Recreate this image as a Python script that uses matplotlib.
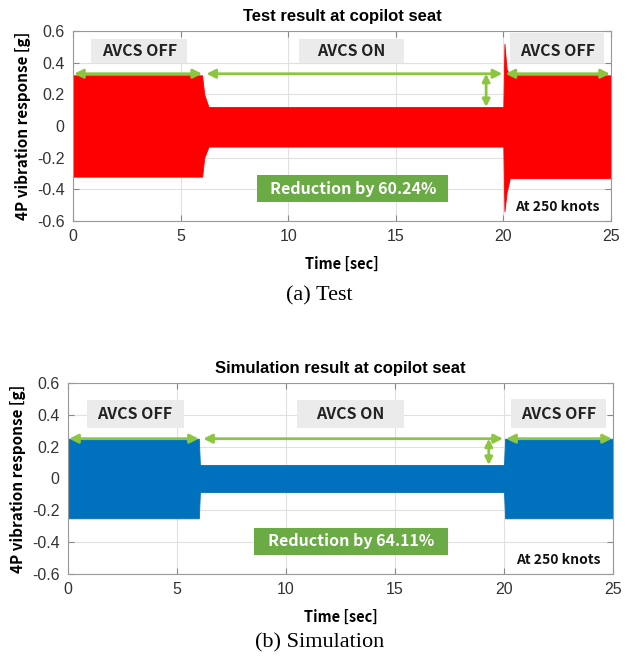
import matplotlib
matplotlib.use("Agg")
import matplotlib.pyplot as plt
from matplotlib.patches import Rectangle

# ---- data (envelopes) ----
test_t = [0.0, 6.0, 6.1, 6.3, 20.0, 20.05, 20.15, 20.3, 25.0]
test_upper = [0.32, 0.32, 0.20, 0.12, 0.12, 0.52, 0.36, 0.32, 0.32]
test_lower = [-0.32, -0.32, -0.20, -0.13, -0.13, -0.54, -0.42, -0.33, -0.33]

sim_t = [0.0, 6.0, 6.05, 20.0, 20.05, 25.0]
sim_upper = [0.25, 0.25, 0.085, 0.085, 0.25, 0.25]
sim_lower = [-0.25, -0.25, -0.085, -0.085, -0.25, -0.25]

titles = ["Test result at copilot seat", "Simulation result at copilot seat"]
captions = ["(a) Test", "(b) Simulation"]
reductions = ["Reduction by 60.24%", "Reduction by 64.11%"]
xticks = [0, 5, 10, 15, 20, 25]
yticks = [-0.6, -0.4, -0.2, 0, 0.2, 0.4, 0.6]
yticklabels = ["-0.6", "-0.4", "-0.2", "0", "0.2", "0.4", "0.6"]

GREEN = "#8CC63F"
GREEN_BOX = "#6AAB45"
GRAY_BOX = "#EBEBEB"

fig = plt.figure(figsize=(6.27, 6.61), dpi=100)
axes_pos = [[0.1164, 0.6657, 0.858, 0.2874], [0.1085, 0.1316, 0.8692, 0.2890]]
colors = ["#FF0000", "#0072BD"]
datasets = [(test_t, test_upper, test_lower), (sim_t, sim_upper, sim_lower)]
arrow_y = [0.33, 0.25]
on_level = [0.12, 0.085]
vert_x = [19.2, 19.3]
box_y = [(0.40, 0.55), (0.32, 0.49)]
box3_y = [(0.40, 0.59), (0.32, 0.50)]
cap_y = [296, 643]
bold_font = ["Noto Sans CJK KR", "DejaVu Sans"]
arial = ["Liberation Sans", "DejaVu Sans"]

for i, ax_p in enumerate(axes_pos):
    ax = fig.add_axes(ax_p)
    t, up, lo = datasets[i]
    ax.fill_between(t, lo, up, color=colors[i], lw=0.6, zorder=2)
    ax.set_xlim(0, 25)
    ax.set_ylim(-0.6, 0.6)
    ax.set_xticks(xticks)
    ax.set_yticks(yticks)
    ax.set_yticklabels(yticklabels)
    ax.grid(True, color="#E0E0E0", lw=0.8, zorder=0)
    ax.set_axisbelow(True)
    ax.tick_params(direction="in", top=True, right=True, length=4, color="#888888",
                   labelsize=11.5, labelcolor="#333333", pad=6)
    for lab in ax.get_xticklabels() + ax.get_yticklabels():
        lab.set_family(arial)
    for s in ax.spines.values():
        s.set_color("#999999")
    ax.set_title(titles[i], fontsize=12, fontweight="bold", pad=7, family=arial)
    ax.set_xlabel("Time [sec]", fontsize=10.5, fontweight="bold", family=bold_font, labelpad=8)
    ax.set_ylabel("4P vibration response [g]", fontsize=11, fontweight="bold", family=bold_font, labelpad=4)

    # gray label boxes
    by0, by1 = box_y[i]
    b3y0, b3y1 = box3_y[i]
    for (x0, x1, yy0, yy1, txt) in [(0.85, 5.3, by0, by1, "AVCS OFF"),
                                    (10.5, 15.4, by0, by1, "AVCS ON"),
                                    (20.3, 24.7, b3y0, b3y1, "AVCS OFF")]:
        ax.add_patch(Rectangle((x0, yy0), x1 - x0, yy1 - yy0, facecolor=GRAY_BOX,
                               edgecolor="none", zorder=3))
        ax.text((x0 + x1) / 2, (by0 + by1) / 2, txt, ha="center", va="center",
                fontsize=11.5, fontweight="bold", color="#222222", family=bold_font, zorder=4)

    # green arrows
    ay = arrow_y[i]
    for (x0, x1) in [(0.05, 6.0), (6.2, 19.95), (20.1, 24.95)]:
        ax.annotate("", xy=(x1, ay), xytext=(x0, ay),
                    arrowprops=dict(arrowstyle="<|-|>", color=GREEN, lw=2,
                                    mutation_scale=13, shrinkA=0, shrinkB=0), zorder=5)
    ax.annotate("", xy=(vert_x[i], on_level[i]), xytext=(vert_x[i], ay),
                arrowprops=dict(arrowstyle="<|-|>", color=GREEN, lw=2,
                                mutation_scale=11, shrinkA=0, shrinkB=0), zorder=5)

    # green reduction box
    ax.add_patch(Rectangle((8.55, -0.48), 17.45 - 8.55, 0.17, facecolor=GREEN_BOX,
                           edgecolor="none", zorder=3))
    ax.text(13.0, -0.395, reductions[i], ha="center", va="center", fontsize=11.5,
            fontweight="bold", color="white", family=bold_font, zorder=4)

    ax.text(22.5, -0.51, "At 250 knots", ha="center", va="center", fontsize=10,
            fontweight="bold", color="#111111", family=bold_font, zorder=4,
            bbox=dict(facecolor="white", edgecolor="none", pad=1))

    fig.text(0.51, 1 - cap_y[i] / 661, captions[i], ha="center", va="center",
             fontsize=16, family="Liberation Serif")

fig.savefig("out.png", dpi=100)
